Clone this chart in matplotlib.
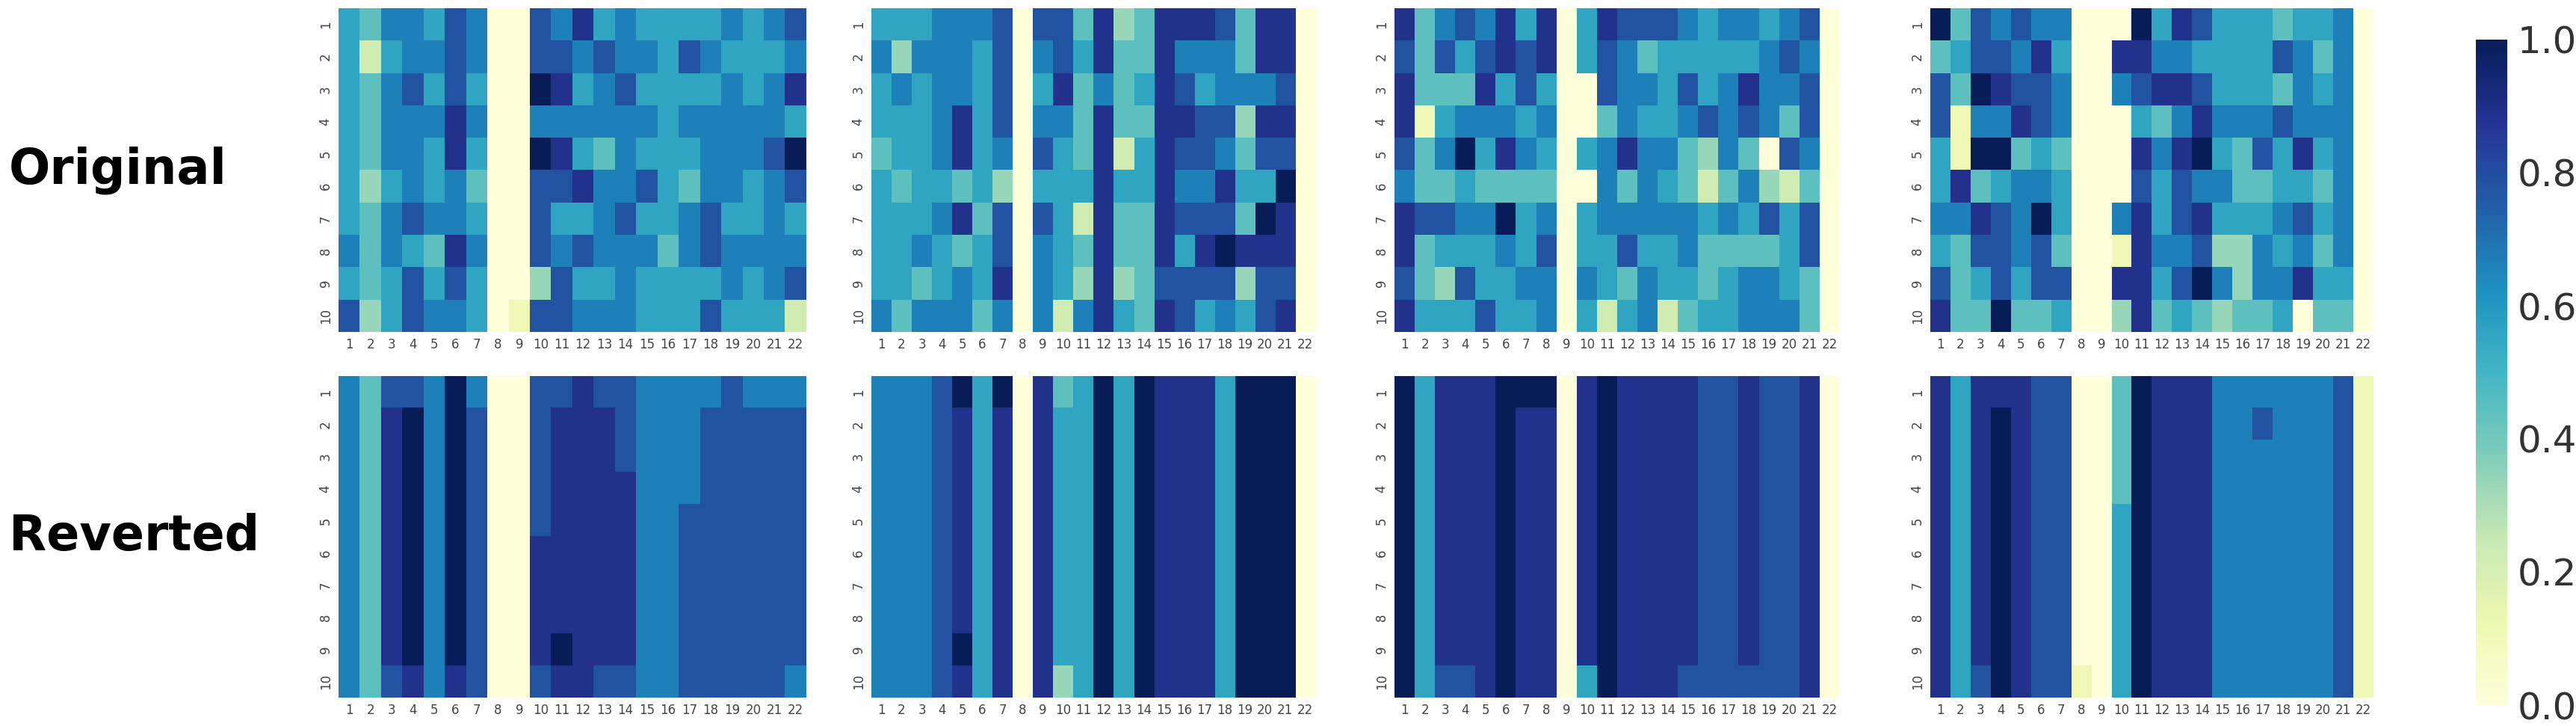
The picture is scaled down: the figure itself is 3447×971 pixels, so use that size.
import numpy as np
import matplotlib
matplotlib.use("Agg")
from matplotlib import pyplot

# cell values, one digit per cell, value = digit / 9
# rows 1..10, columns 1..22
orig_1 = ["5466576007685655556567",
          "5256676007767665765556",
          "5467575009856755556568",
          "5466686006666665666665",
          "5466585009854655566679",
          "5356564007786675466567",
          "5467665007556755675565",
          "6465486007676664676666",
          "5457575003755655556567",
          "7357665017766655575552"]
rev_1 = ["6477696007787766667666",
         "6489697007888766677777",
         "6489697007888766677777",
         "6489697007888866677777",
         "6489697007888866777777",
         "6489697008888866777777",
         "6489697008888866777777",
         "6489697008888866777777",
         "6489697008988866777777",
         "6478687007887766777776"]
orig_2 = ["5556667077483488874880",
          "6366657067584486664880",
          "5656657058464587566670",
          "5556857066484488773880",
          "4556856075482587764770",
          "5455453055585586685590",
          "5556847075284487774980",
          "5565457065484485898880",
          "5545658065383477773770",
          "6466646062685487565780"]
rev_2 = ["6667959084595988859990",
         "6667858085595988859990",
         "6667858085595988859990",
         "6667858085595988859990",
         "6667858085595988859990",
         "6667858085595988859990",
         "6667858085595988859990",
         "6667858085595988859990",
         "6667958085595988859990",
         "6667858083595988859990"]
orig_3 = ["8467685805877765665670",
          "7475787805764555556760",
          "8444857500766575686670",
          "8156665600465567676470",
          "7469586505686643640760",
          "6445444400646542463240",
          "8776695605666665657570",
          "8455565705575564444570",
          "7437556606546554566540",
          "8555755605256245566640"]
rev_3 = ["9588899908988887787780",
         "9588898808988887787780",
         "9588898808988887787780",
         "9588898808988887787780",
         "9588898808988887787780",
         "9588898808988887787780",
         "9588898808988887787780",
         "9588898808988887787780",
         "9588898808988887787780",
         "9577898805988877777780"]
orig_4 = ["9476766000958755545560",
          "4577685008866555576460",
          "7498776006788755546560",
          "7166876000546866676660",
          "5199454000868954758560",
          "5845665000757664455460",
          "6687695006857855567560",
          "5477674001866733656460",
          "7457577008857963668550",
          "8449445003845434450440"]
rev_4 = ["8588877004988866666671",
         "8589877004988866766671",
         "8589877004988866666671",
         "8589877004988866666671",
         "8589877005988866666671",
         "8589877005988866666671",
         "8589877005988866666671",
         "8589877005988866666671",
         "8589877005988866666671",
         "8579877105988866666671"]

row_names = ["Original", "Reverted"]
panels = [[orig_1, orig_2, orig_3, orig_4], [rev_1, rev_2, rev_3, rev_4]]
col_labels = [str(i) for i in range(1, 23)]
row_labels = [str(i) for i in range(1, 11)]
cbar_ticks = [0.0, 0.2, 0.4, 0.6, 0.8, 1.0]


def to_array(rows):
    # digit strings -> values in [0, 1]
    return np.array([[int(c) for c in r] for r in rows], dtype=float) / 9.0


W, H = 3447, 971
fig = pyplot.figure(figsize=(W / 100, H / 100), dpi=100)

# panel extents in pixels
xs = [(453, 1079), (1166, 1760), (1866, 2462), (2583, 3176)]
ys = [(11, 444), (503, 933)]
cmap = matplotlib.colormaps["YlGnBu"]

im = None
for r, (y0, y1) in enumerate(ys):
    for c, (x0, x1) in enumerate(xs):
        ax = fig.add_axes([x0 / W, 1 - y1 / H, (x1 - x0) / W, (y1 - y0) / H])
        im = ax.imshow(to_array(panels[r][c]), cmap=cmap, vmin=0, vmax=1,
                       aspect="auto", interpolation="nearest")
        ax.set_xticks(range(22))
        ax.set_xticklabels(col_labels, fontsize=12, color="#444444")
        ax.set_yticks(range(10))
        ax.set_yticklabels(row_labels, fontsize=12, color="#444444",
                           rotation=90, va="center")
        ax.tick_params(length=0, pad=6)
        for s in ax.spines.values():
            s.set_visible(False)

# row titles
for r, (y0, y1) in enumerate(ys):
    fig.text(12 / W, 1 - (y0 + y1) / 2 / H, row_names[r], fontsize=47,
             fontweight="bold", family=["DejaVu Sans"],
             ha="left", va="center")

# colorbar
cax = fig.add_axes([3313 / W, 1 - 943 / H, 42 / W, 890 / H])
cb = fig.colorbar(im, cax=cax, ticks=cbar_ticks)
cb.outline.set_visible(False)
cb.ax.set_yticklabels(["%.1f" % t for t in cbar_ticks])
cb.ax.tick_params(length=0, labelsize=36, labelcolor="#333333", pad=10)

fig.savefig("out.png", dpi=100)
